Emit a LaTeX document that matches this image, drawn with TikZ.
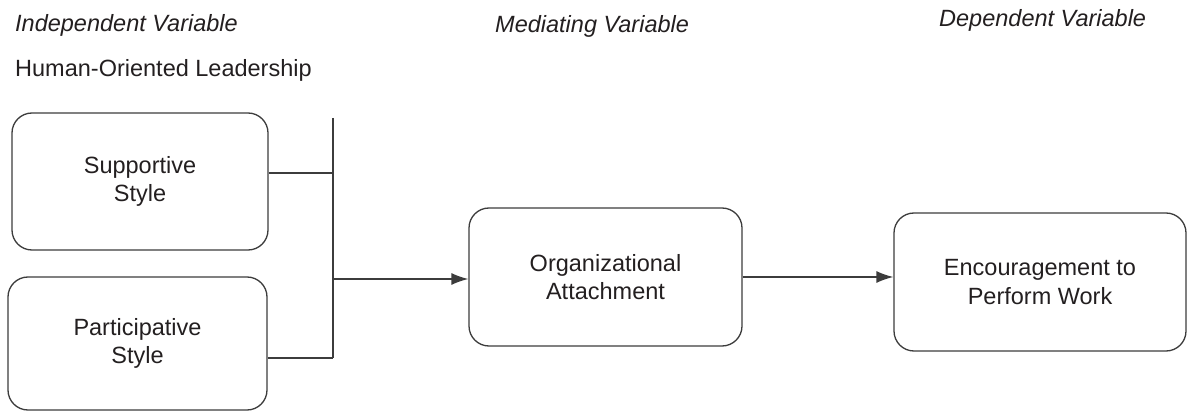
\documentclass[tikz,border=0pt]{standalone}
\usepackage{fontspec}
\setmainfont{Liberation Sans}
\usetikzlibrary{arrows.meta}
\definecolor{ink}{HTML}{231F20}
\definecolor{linec}{HTML}{3C3C3C}
\begin{document}
\begin{tikzpicture}[x=1pt,y=-1pt,
  box/.style={draw=linec, line width=1.3pt, rounded corners=20pt, align=center,
    text=ink, font=\fontsize{23.5}{28.7}\selectfont, inner sep=0pt},
  head/.style={anchor=base west, text=ink, inner sep=0pt, font=\fontsize{23.5}{28}\selectfont\itshape},
  conn/.style={draw=linec, line width=1.3pt},
  arr/.style={conn, -{Latex[length=17pt,width=12pt]}}]
\useasboundingbox (0,0) rectangle (1188,411);
\node[head] (iv) at (15,32) {Independent Variable};
\node[head] (mv) at (495,33) {Mediating Variable};
\node[head] (dv) at (939,27) {Dependent Variable};
\node[head, font=\fontsize{23.5}{28}\selectfont] (hol) at (15,77) {Human-Oriented Leadership};
\node[box, minimum width=256pt, minimum height=137pt] (sup) at (140,181.5) {Supportive\\Style};
\node[box, minimum width=259pt, minimum height=133pt] (par) at (137.5,343.5) {Participative\\Style};
\node[box, minimum width=273pt, minimum height=138pt] (org) at (605.5,277) {Organizational\\Attachment};
\node[box, minimum width=292pt, minimum height=138pt] (enc) at (1040,282) {Encouragement to\\Perform Work};
\coordinate (bt) at (333,118);
\coordinate (bs) at (333,173);
\coordinate (bm) at (333,279);
\coordinate (bp) at (333,358);
\draw[conn] (bt) -- (bp);
\draw[conn] (sup.east |- bs) -- (bs);
\draw[conn] (par.east |- bp) -- (bp);
\draw[arr] (bm) -- (org.west |- bm);
\draw[arr] (org.east) -- (org.east -| enc.west);
\end{tikzpicture}
\end{document}
